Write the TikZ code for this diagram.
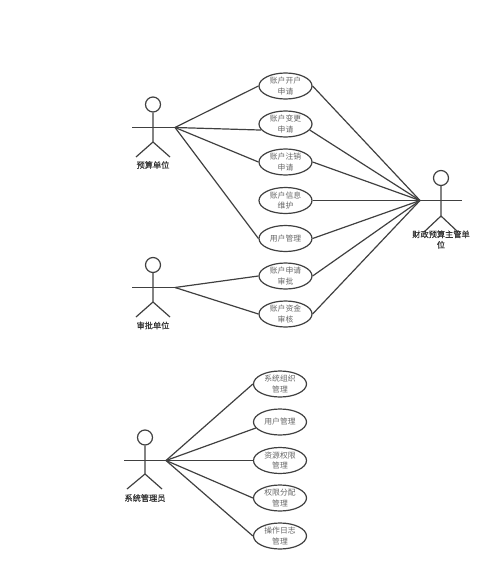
\documentclass[tikz,border=0pt]{standalone}
\usepackage{fontspec}
\setmainfont{Noto Sans CJK SC}
\newfontfamily\actfont[FakeBold=0.6]{Noto Sans CJK SC}
\definecolor{ln}{HTML}{404040}
\definecolor{uct}{HTML}{666666}
\definecolor{act}{HTML}{333333}
\tikzset{
  usecase/.style={draw=ln,line width=1.2pt,ellipse,minimum width=53pt,minimum height=26pt,inner sep=0pt,
    text=uct,align=center,font=\fontsize{7.8}{10.5}\selectfont},
  actlabel/.style={text=act,align=center,font=\actfont\fontsize{8.2}{10.5}\selectfont},
  link/.style={draw=ln,line width=1.2pt},
  stick/.style={draw=ln,line width=1.2pt},
  head/.style={draw=ln,line width=1.2pt,circle,minimum size=15pt,inner sep=0pt}
}
\usetikzlibrary{shapes.geometric}
\begin{document}
\begin{tikzpicture}[x=1pt,y=-1pt]
\useasboundingbox (0,0) rectangle (500,586);
% actors
\node[head] (h1) at (153,104.5) {};
\draw[stick] (h1.south) -- (153,142) coordinate (b1) -- (136,157);
\draw[stick] (b1) -- (170,157);
\coordinate (a1) at (175,127.5);
\draw[stick] (132,127.5) -- (a1);
\node[actlabel] (l1) at (153,165) {预算单位};

\node[head] (h2) at (153,265) {};
\draw[stick] (h2.south) -- (153,302) coordinate (b2) -- (136,317);
\draw[stick] (b2) -- (170,317);
\coordinate (a2) at (175,287.5);
\draw[stick] (132,287.5) -- (a2);
\node[actlabel] (l2) at (153,325.5) {审批单位};

\node[head] (h3) at (145,437.5) {};
\draw[stick] (h3.south) -- (145,474) coordinate (b3) -- (127,489);
\draw[stick] (b3) -- (162,489);
\coordinate (a3) at (166,460.5);
\draw[stick] (124,460.5) -- (a3);
\node[actlabel] (l3) at (145,498) {系统管理员};

\node[head] (h4) at (441,178) {};
\draw[stick] (h4.south) -- (441,216) coordinate (b4) -- (424,232);
\draw[stick] (b4) -- (458,232);
\coordinate (a4) at (420,200.5);
\draw[stick] (a4) -- (462,200.5);
\node[actlabel] (l4) at (441,239.5) {财政预算主管单\\位};
% use cases
\node[usecase] (u1) at (285.5,86) {账户开户\\申请};
\node[usecase] (u2) at (285.5,124) {账户变更\\申请};
\node[usecase] (u3) at (285.5,162) {账户注销\\申请};
\node[usecase] (u4) at (285.5,200.5) {账户信息\\维护};
\node[usecase] (u5) at (285.5,238.5) {用户管理};
\node[usecase] (u6) at (285.5,276) {账户申请\\审批};
\node[usecase] (u7) at (285.5,314) {账户资金\\审核};
\node[usecase] (s1) at (280,384) {系统组织\\管理};
\node[usecase] (s2) at (280,422) {用户管理};
\node[usecase] (s3) at (280,460.5) {资源权限\\管理};
\node[usecase] (s4) at (280,498) {权限分配\\管理};
\node[usecase] (s5) at (280,536) {操作日志\\管理};
% connectors
\foreach \u in {u1.west,u2.194,u3.west,u5.west} \draw[link] (a1) -- (\u);
\foreach \u in {u6.west,u7.west} \draw[link] (a2) -- (\u);
\foreach \u in {s1.west,s2.194,s3.west,s4.west,s5.west} \draw[link] (a3) -- (\u);
\foreach \u in {u1.east,u2.346,u3.east,u4.east,u5.east,u6.east,u7.east} \draw[link] (\u) -- (a4);
\end{tikzpicture}
\end{document}
